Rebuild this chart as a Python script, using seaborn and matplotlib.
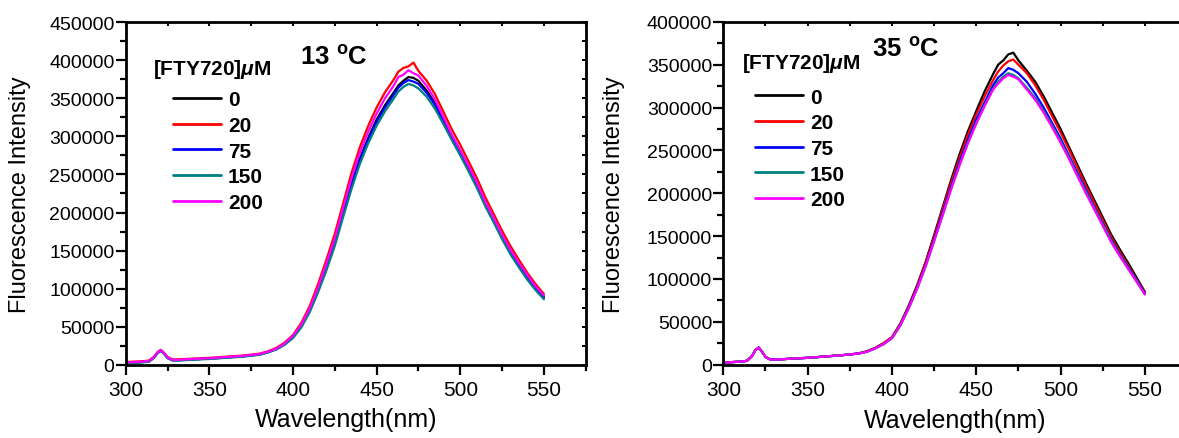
import numpy as np
import pandas as pd
import matplotlib
matplotlib.use('Agg')
import matplotlib.pyplot as plt
import seaborn as sns
from matplotlib.lines import Line2D
from matplotlib.ticker import MultipleLocator, NullFormatter

wavelength = [300, 305, 310, 314, 317, 319, 321, 323, 325, 328,
              332, 340, 350, 360, 370, 380, 385, 390, 395, 400,
              405, 410, 415, 420, 425, 430, 435, 440, 445, 450,
              455, 460, 463, 466, 469, 472, 475, 480, 485, 490,
              495, 500, 505, 510, 515, 520, 525, 530, 535, 540,
              545, 550]

concentrations = ['0', '20', '75', '150', '200']
colors = ['#000000', '#ff0000', '#0000ff', '#008080', '#ff00ff']

# fluorescence intensity, in thousands, 13 C
i13_0 = [2.5, 3, 3.5, 4.5, 9.5, 15.5, 18.5, 14.5, 9, 6,
         6, 7, 8, 9.5, 11, 13.5, 16.5, 20.5, 27, 37,
         52, 72, 99, 129, 161, 200, 238, 271, 298, 322,
         341, 357, 367, 373, 378, 377, 373, 360, 343, 321,
         299, 279, 258, 236, 212, 191, 169, 149, 132, 116,
         101, 89]
i13_20 = [3.5, 4, 4.5, 5.5, 10.5, 16.5, 19.5, 15.5, 10, 7,
          7, 8, 9, 10.5, 12, 14.5, 17.5, 22, 29, 39,
          55, 77, 106, 138, 172, 212, 252, 286, 314, 338,
          358, 374, 385, 390, 392, 397, 386, 373, 355, 332,
          309, 289, 267, 245, 220, 198, 176, 156, 138, 121,
          106, 93]
i13_75 = [2.5, 3, 3.5, 4.5, 9.5, 15.5, 18.5, 14.5, 9, 6,
          6, 7, 8, 9.5, 11, 13.5, 16.5, 20.5, 27, 36,
          51, 71, 98, 128, 160, 199, 236, 269, 296, 319,
          338, 354, 364, 370, 374, 372, 369, 357, 341, 320,
          298, 278, 257, 235, 211, 190, 168, 148, 131, 115,
          100, 88]
i13_150 = [2, 2.5, 3, 4, 9, 15, 18, 14, 8.5, 5.5,
           5.5, 6.5, 7.5, 9, 10.5, 13, 16, 20, 26, 35,
           49, 69, 95, 124, 156, 194, 231, 264, 291, 314,
           333, 349, 359, 365, 369, 367, 363, 352, 336, 316,
           295, 275, 254, 232, 208, 187, 165, 145, 128, 112,
           98, 86]
i13_200 = [3, 3.5, 4, 5, 10, 16, 19, 15, 9.5, 6.5,
           6.5, 7.5, 8.5, 10, 11.5, 14, 17, 21, 28, 38,
           53, 74, 102, 133, 166, 206, 245, 279, 306, 330,
           350, 366, 378, 381, 387, 383, 380, 366, 348, 325,
           302, 282, 261, 239, 214, 193, 171, 151, 134, 118,
           103, 91]

# fluorescence intensity, in thousands, 35 C
i35_0 = [2.5, 3, 3.5, 4.5, 10, 17, 20, 15, 9, 6,
         6, 7, 8, 9.5, 11, 13, 15.5, 19.5, 25, 32,
         48, 69, 93, 120, 151, 183, 215, 245, 272, 296,
         319, 339, 350, 355, 362, 364, 355, 343, 330, 313,
         294, 275, 254, 233, 212, 192, 172, 152, 135, 119,
         102, 85]
i35_20 = [2.5, 3, 3.5, 4.5, 10, 17, 20, 15, 9, 6,
          6, 7, 8, 9.5, 11, 13, 15.5, 19.5, 25, 32,
          47, 68, 92, 119, 149, 181, 212, 241, 268, 292,
          313, 332, 342, 349, 354, 356, 350, 340, 326, 309,
          290, 271, 251, 230, 209, 189, 169, 149, 132, 116,
          100, 84]
i35_75 = [2.5, 3, 3.5, 4.5, 10, 17, 20, 15, 9, 6,
          6, 7, 8, 9.5, 11, 13, 15, 19, 24, 31,
          46, 67, 90, 116, 146, 177, 207, 236, 262, 286,
          306, 326, 335, 340, 346, 344, 340, 330, 316, 300,
          282, 264, 244, 224, 204, 184, 165, 146, 129, 114,
          99, 83]
i35_150 = [2.5, 3, 3.5, 4.5, 10, 17, 20, 15, 9, 6,
           6, 7, 8, 9.5, 11, 13, 15, 19, 24, 31,
           46, 66, 89, 115, 144, 174, 205, 233, 259, 282,
           303, 322, 330, 336, 340, 338, 334, 323, 311, 296,
           279, 261, 242, 222, 202, 183, 164, 145, 128, 113,
           98, 82]
i35_200 = [2.5, 3, 3.5, 4.5, 10, 17, 20, 15, 9, 6,
           6, 7, 8, 9.5, 11, 13, 15, 19, 24, 31,
           46, 66, 89, 115, 144, 174, 204, 232, 258, 281,
           302, 321, 328, 334, 338, 336, 333, 321, 309, 294,
           277, 259, 240, 220, 200, 181, 162, 143, 127, 112,
           97, 82]

panels = [
    ('13', [i13_0, i13_20, i13_75, i13_150, i13_200], 450000),
    ('35', [i35_0, i35_20, i35_75, i35_150, i35_200], 400000),
]

sns.set_style('ticks')
plt.rcParams['font.family'] = ['Liberation Sans', 'DejaVu Sans']
plt.rcParams['mathtext.fontset'] = 'custom'
plt.rcParams['mathtext.rm'] = 'Liberation Sans:bold'
plt.rcParams['mathtext.it'] = 'Liberation Sans:italic:bold'
plt.rcParams['mathtext.bf'] = 'Liberation Sans:bold'
for key in ['axes.edgecolor', 'axes.labelcolor', 'text.color',
            'xtick.color', 'ytick.color']:
    plt.rcParams[key] = 'black'

fig = plt.figure(figsize=(11.79, 4.39), dpi=100)
palette = dict(zip(concentrations, colors))

# per panel: axes rect, ylabel x, xlabel x, temp text xy, legend title xy, legend xy
layout = {
    '13': dict(rect=[0.1066, 0.167, 0.3902, 0.780], ylab=-0.205, xlab=0.48,
               temp=(0.379, 0.899), title=(0.06, 0.864), leg=(0.08, 0.832)),
    '35': dict(rect=[0.6135, 0.167, 0.3933, 0.781], ylab=-0.212, xlab=0.5,
               temp=(0.32, 0.92), title=(0.04, 0.882), leg=(0.045, 0.838)),
}

for temp, series, ymax in panels:
    lay = layout[temp]
    ax = fig.add_axes(lay['rect'])
    rows = []
    for conc, vals in zip(concentrations, series):
        for w, v in zip(wavelength, vals):
            rows.append({'wl': w, 'I': v * 1000, 'conc': conc})
    df = pd.DataFrame(rows)
    sns.lineplot(data=df, x='wl', y='I', hue='conc', hue_order=concentrations,
                 palette=palette, estimator=None, sort=False, lw=1.6,
                 legend=False, ax=ax)

    ax.set_xlim(300, 575)
    ax.set_ylim(0, ymax)
    ax.xaxis.set_major_locator(MultipleLocator(50))
    ax.xaxis.set_minor_locator(MultipleLocator(25))
    ax.yaxis.set_major_locator(MultipleLocator(50000))
    ax.yaxis.set_minor_locator(MultipleLocator(25000))
    ax.ticklabel_format(axis='y', style='plain', useOffset=False)
    for s in ax.spines.values():
        s.set_linewidth(2)
    ax.tick_params(which='major', direction='out', length=7, width=1.6,
                   labelsize=15, pad=1)
    ax.tick_params(which='minor', direction='out', length=4, width=1.6)
    ax.tick_params(axis='x', which='major', pad=4)
    ax.tick_params(axis='y', labelsize=14)

    # small inward ticks on the top and right frame
    top = ax.secondary_xaxis('top')
    top.xaxis.set_major_locator(MultipleLocator(25))
    top.xaxis.set_major_formatter(NullFormatter())
    top.tick_params(direction='in', length=3, width=1.4)
    right = ax.secondary_yaxis('right')
    right.yaxis.set_major_locator(MultipleLocator(25000))
    right.yaxis.set_major_formatter(NullFormatter())
    right.tick_params(direction='in', length=3, width=1.4)

    ax.set_xlabel('Wavelength(nm)', fontsize=18)
    ax.set_ylabel('Fluorescence Intensity', fontsize=17)
    ax.xaxis.set_label_coords(lay['xlab'], -0.125)
    ax.yaxis.set_label_coords(lay['ylab'], 0.5)

    ax.text(*lay['temp'], temp + r' $^{\mathbf{o}}$C',
            transform=ax.transAxes, fontsize=18.5, fontweight='bold',
            ha='left', va='center')
    ax.text(*lay['title'], r'[FTY720]$\mu$M', transform=ax.transAxes,
            fontsize=15, fontweight='bold', ha='left', va='center')

    handles = [Line2D([0], [0], color=c, lw=2) for c in colors]
    ax.legend(handles, concentrations, loc='upper left',
              bbox_to_anchor=lay['leg'], frameon=False, borderpad=0,
              handlelength=2.3, handletextpad=0.35, labelspacing=0.32,
              prop={'weight': 'bold', 'size': 15})

fig.savefig('out.png', dpi=100)
